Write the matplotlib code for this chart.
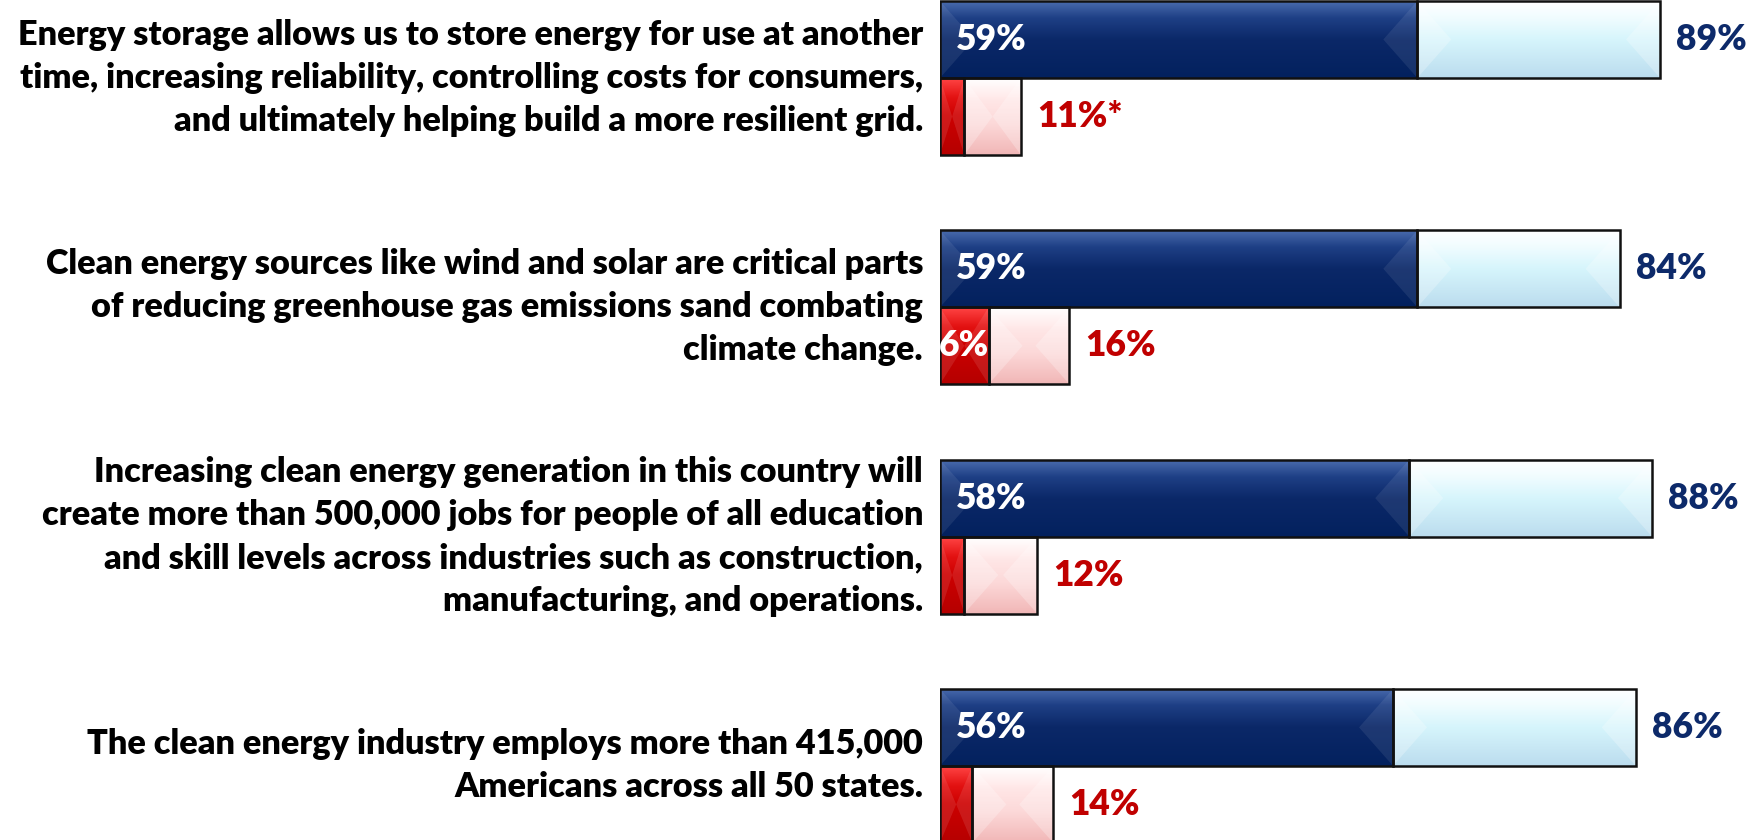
import numpy as np
import matplotlib
matplotlib.use("Agg")
import matplotlib.pyplot as plt
from matplotlib.patches import Polygon
from matplotlib.colors import LinearSegmentedColormap

statements = [
    "Energy storage allows us to store energy for use at another\n"
    "time, increasing reliability, controlling costs for consumers,\n"
    "and ultimately helping build a more resilient grid.",
    "Clean energy sources like wind and solar are critical parts\n"
    "of reducing greenhouse gas emissions sand combating\n"
    "climate change.",
    "Increasing clean energy generation in this country will\n"
    "create more than 500,000 jobs for people of all education\n"
    "and skill levels across industries such as construction,\n"
    "manufacturing, and operations.",
    "The clean energy industry employs more than 415,000\n"
    "Americans across all 50 states.",
]
agree_strong = [59, 59, 58, 56]
agree_total = [89, 84, 88, 86]
disagree_strong = [3, 6, 3, 4]
disagree_total = [10, 16, 12, 14]
agree_strong_labels = ["59%", "59%", "58%", "56%"]
agree_total_labels = ["89%", "84%", "88%", "86%"]
disagree_strong_labels = ["", "6%", "", ""]
disagree_total_labels = ["11%*", "16%", "12%", "14%"]

FONT = ["Lato", "DejaVu Sans"]
NAVY = "#0D2A6A"
RED = "#C00000"

W, H = 1754, 840
fig = plt.figure(figsize=(W / 100, H / 100), dpi=100)
left_px = 940
ax = fig.add_axes([left_px / W, 0, 1 - left_px / W, 1])

px_per_x = 8.09
px_per_y = 229.3
xmax = (W - left_px) / px_per_x
ytop = -78 / px_per_y
ybot = (H - 78) / px_per_y
h = 77 / px_per_y

ypos = np.arange(len(statements))
y_agree = ypos - h / 2
y_dis = ypos + h / 2

agree_rest = [t - s for t, s in zip(agree_total, agree_strong)]
dis_rest = [t - s for t, s in zip(disagree_total, disagree_strong)]

grad_dark_blue = [(0, "#4A6CAE"), (0.22, "#1E3F85"), (0.5, "#0B2868"), (1, "#03215E")]
grad_light_blue = [(0, "#FFFFFF"), (0.2, "#F2FDFF"), (0.5, "#D6F5FC"), (1, "#BBDCEE")]
grad_red = [(0, "#FF4545"), (0.25, "#E31212"), (0.5, "#CC0000"), (1, "#B50000")]
grad_pink = [(0, "#FFFFFF"), (0.3, "#FFE6E6"), (0.6, "#FCD8D8"), (1, "#F1B6B6")]


def fancy_bars(y, widths, lefts, stops, side_alpha):
    bars = ax.barh(y, widths, left=lefts, height=h, color=stops[2][1],
                   edgecolor="none", zorder=1)
    cmap = LinearSegmentedColormap.from_list("g", stops)
    grad = np.linspace(0, 1, 256).reshape(-1, 1)
    for p in bars.patches:
        x0, y0 = p.get_x(), p.get_y()
        w, hh = p.get_width(), p.get_height()
        if w <= 0:
            continue
        im = ax.imshow(grad, cmap=cmap, aspect="auto",
                       extent=(x0, x0 + w, y0 + hh, y0), origin="upper",
                       interpolation="bicubic", zorder=2)
        im.set_clip_path(p)
        bx = min(34 / px_per_x, w / 2)
        mid = y0 + hh / 2
        for pts in ([(x0, y0), (x0 + bx, mid), (x0, y0 + hh)],
                    [(x0 + w, y0), (x0 + w - bx, mid), (x0 + w, y0 + hh)]):
            ax.add_patch(Polygon(pts, closed=True, facecolor="white",
                                 alpha=side_alpha, edgecolor="none", zorder=3))
    ax.barh(y, widths, left=lefts, height=h, fill=False,
            edgecolor="#111111", linewidth=1.8, zorder=4)
    return bars


fancy_bars(y_agree, agree_strong, 0, grad_dark_blue, 0.08)
fancy_bars(y_agree, agree_rest, agree_strong, grad_light_blue, 0.25)
fancy_bars(y_dis, disagree_strong, 0, grad_red, 0.10)
fancy_bars(y_dis, dis_rest, disagree_strong, grad_pink, 0.25)

fs_pct = 25.5
gap = 16 / px_per_x
for i in range(len(statements)):
    ax.text(agree_total[i] + gap, y_agree[i], agree_total_labels[i],
            ha="left", va="center", color=NAVY, fontsize=fs_pct,
            fontweight="heavy", family=FONT, zorder=5)
    ax.text(disagree_total[i] + gap, y_dis[i], disagree_total_labels[i],
            ha="left", va="center", color=RED, fontsize=fs_pct,
            fontweight="heavy", family=FONT, zorder=5)
    ax.text(16 / px_per_x, y_agree[i], agree_strong_labels[i],
            ha="left", va="center", color="white", fontsize=fs_pct,
            fontweight="heavy", family=FONT, zorder=5)
    if disagree_strong_labels[i]:
        ax.text(disagree_strong[i] / 2, y_dis[i], disagree_strong_labels[i],
                ha="center", va="center", color="white", fontsize=fs_pct,
                fontweight="heavy", family=FONT, zorder=5)
    ax.text(-17 / px_per_x, ypos[i], statements[i], ha="right", va="center",
            ma="right", color="black", fontsize=24.7, fontweight="heavy",
            family=FONT, linespacing=1.42, clip_on=False, zorder=5)

ax.set_xlim(0, xmax)
ax.set_ylim(ybot, ytop)
ax.axis("off")

fig.savefig("out.png", dpi=100, facecolor="white")
